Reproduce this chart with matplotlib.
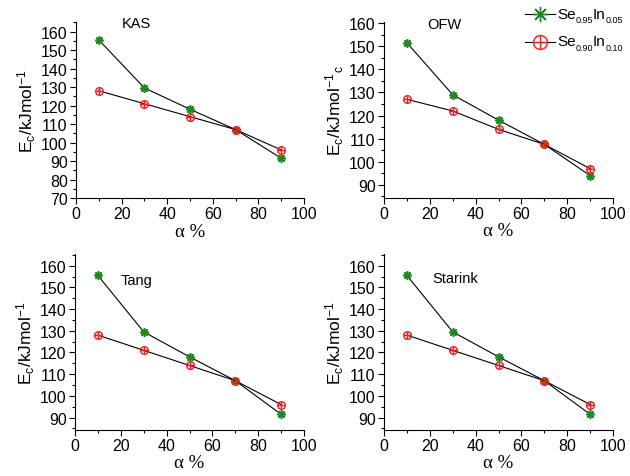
import matplotlib.pyplot as plt
from matplotlib.lines import Line2D
from matplotlib.text import Annotation
from matplotlib.ticker import MultipleLocator

plt.rcParams['font.family'] = ['Liberation Sans', 'DejaVu Sans']
plt.rcParams['mathtext.fontset'] = 'custom'
plt.rcParams['mathtext.rm'] = 'Liberation Sans'
plt.rcParams['mathtext.it'] = 'Liberation Sans:italic'
plt.rcParams['mathtext.bf'] = 'Liberation Sans:bold'

alpha = [10, 30, 50, 70, 90]

# activation energies, kJ/mol
kas_a = [155.5, 129.5, 118, 107, 91.5]
kas_b = [128, 121, 114, 107, 96]
ofw_a = [151.5, 129, 118, 107.5, 94]
ofw_b = [127, 122, 114, 107.5, 97]
tang_a = [155.5, 129.5, 118, 107, 91.5]
tang_b = [128, 121, 114, 107, 96]
star_a = [155.5, 129.5, 118, 107, 91.5]
star_b = [128, 121, 114, 107, 96]

names = ['KAS', 'OFW', 'Tang', 'Starink']
legend_parts = [('Se', '0.95', 'In', '0.05'), ('Se', '0.90', 'In', '0.10')]

W, H = 630, 477
fig = plt.figure(figsize=(6.3, 4.77), dpi=100)

# axes boxes in pixels: left, top, right, bottom
boxes = [(76, 23, 304, 199), (384, 23, 613, 198.5),
         (75, 255, 304, 430.7), (384, 255, 613, 430.7)]
ylims = [(70, 165.2), (84.5, 160.5), (84.4, 165.4), (84.4, 165.4)]
name_pos = [(20, 164.7), (18.8, 159.7), (20, 153.5), (21.3, 154.5)]
ylabels = [r'E$_\mathrm{c}$/kJmol$^{\mathrm{-1}}$',
           r'E$_\mathrm{c}$/kJmol$^{\mathrm{-1}}$$_\mathrm{c}$',
           r'E$_\mathrm{c}$/kJmol$^{\mathrm{-1}}$',
           r'E$_\mathrm{c}$/kJmol$^{\mathrm{-1}}$']
data = [(kas_a, kas_b), (ofw_a, ofw_b), (tang_a, tang_b), (star_a, star_b)]

green = '#1a8a1a'
red = '#ff1a1a'
star = (8, 2, 0)

for i in range(4):
    l, t, r, b = boxes[i]
    ax = fig.add_axes([l / W, 1 - b / H, (r - l) / W, (b - t) / H])
    ya, yb = data[i]
    ax.plot(alpha, ya, color='black', lw=0.8, marker=star, ms=6,
            mec=green, mew=1.2, zorder=3)
    ax.plot(alpha, yb, color='black', lw=0.8, marker='o', ms=5.5,
            mfc='none', mec=red, mew=1.0, zorder=3)
    ax.plot(alpha, yb, ls='none', marker='+', ms=5.5, mec=red, mew=1.0, zorder=4)

    ax.set_xlim(0, 100)
    ax.set_ylim(*ylims[i])
    ax.xaxis.set_major_locator(MultipleLocator(20))
    ax.xaxis.set_minor_locator(MultipleLocator(10))
    ax.yaxis.set_major_locator(MultipleLocator(10))
    ax.yaxis.set_minor_locator(MultipleLocator(5))
    ax.spines['top'].set_visible(False)
    ax.spines['right'].set_visible(False)
    ax.spines['left'].set_linewidth(0.8)
    ax.spines['bottom'].set_linewidth(0.8)
    ax.tick_params(which='major', direction='out', length=4, width=0.8,
                   labelsize=11.5, pad=2)
    ax.tick_params(which='minor', direction='out', length=2, width=0.8)
    ax.set_xlabel('\u03b1 %', fontsize=13.5, family='Liberation Serif', labelpad=1)
    ax.set_ylabel(ylabels[i], fontsize=12.5, labelpad=2)
    ax.text(name_pos[i][0], name_pos[i][1], names[i], fontsize=10.5,
            ha='left', va='center')

# legend, top right, drawn by hand so the subscripts stay small
rows_y = [15, 42.5]
for k, (p1, s1, p2, s2) in enumerate(legend_parts):
    yc = 1 - rows_y[k] / H
    fig.add_artist(Line2D([525 / W, 555 / W], [yc, yc], color='black', lw=0.8,
                          transform=fig.transFigure))
    if k == 0:
        fig.add_artist(Line2D([540 / W], [yc], ls='none', marker=star, ms=11,
                              mec=green, mew=1.0, transform=fig.transFigure))
    else:
        fig.add_artist(Line2D([540 / W], [yc], ls='none', marker='o', ms=10,
                              mfc='none', mec=red, mew=1.0, transform=fig.transFigure))
        fig.add_artist(Line2D([540 / W], [yc], ls='none', marker='+', ms=10,
                              mec=red, mew=1.0, transform=fig.transFigure))
    t1 = fig.text(557 / W, yc, p1, fontsize=11, va='center', ha='left')
    a1 = Annotation(s1, xy=(1, 0.08), xycoords=t1, fontsize=6.5,
                    va='center', ha='left')
    fig.add_artist(a1)
    t2 = Annotation(p2, xy=(1, 0.5), xycoords=(a1, t1), fontsize=11,
                    va='center', ha='left')
    fig.add_artist(t2)
    a2 = Annotation(s2, xy=(1, 0.08), xycoords=t2, fontsize=6.5,
                    va='center', ha='left')
    fig.add_artist(a2)

fig.savefig('out.png', dpi=100)
